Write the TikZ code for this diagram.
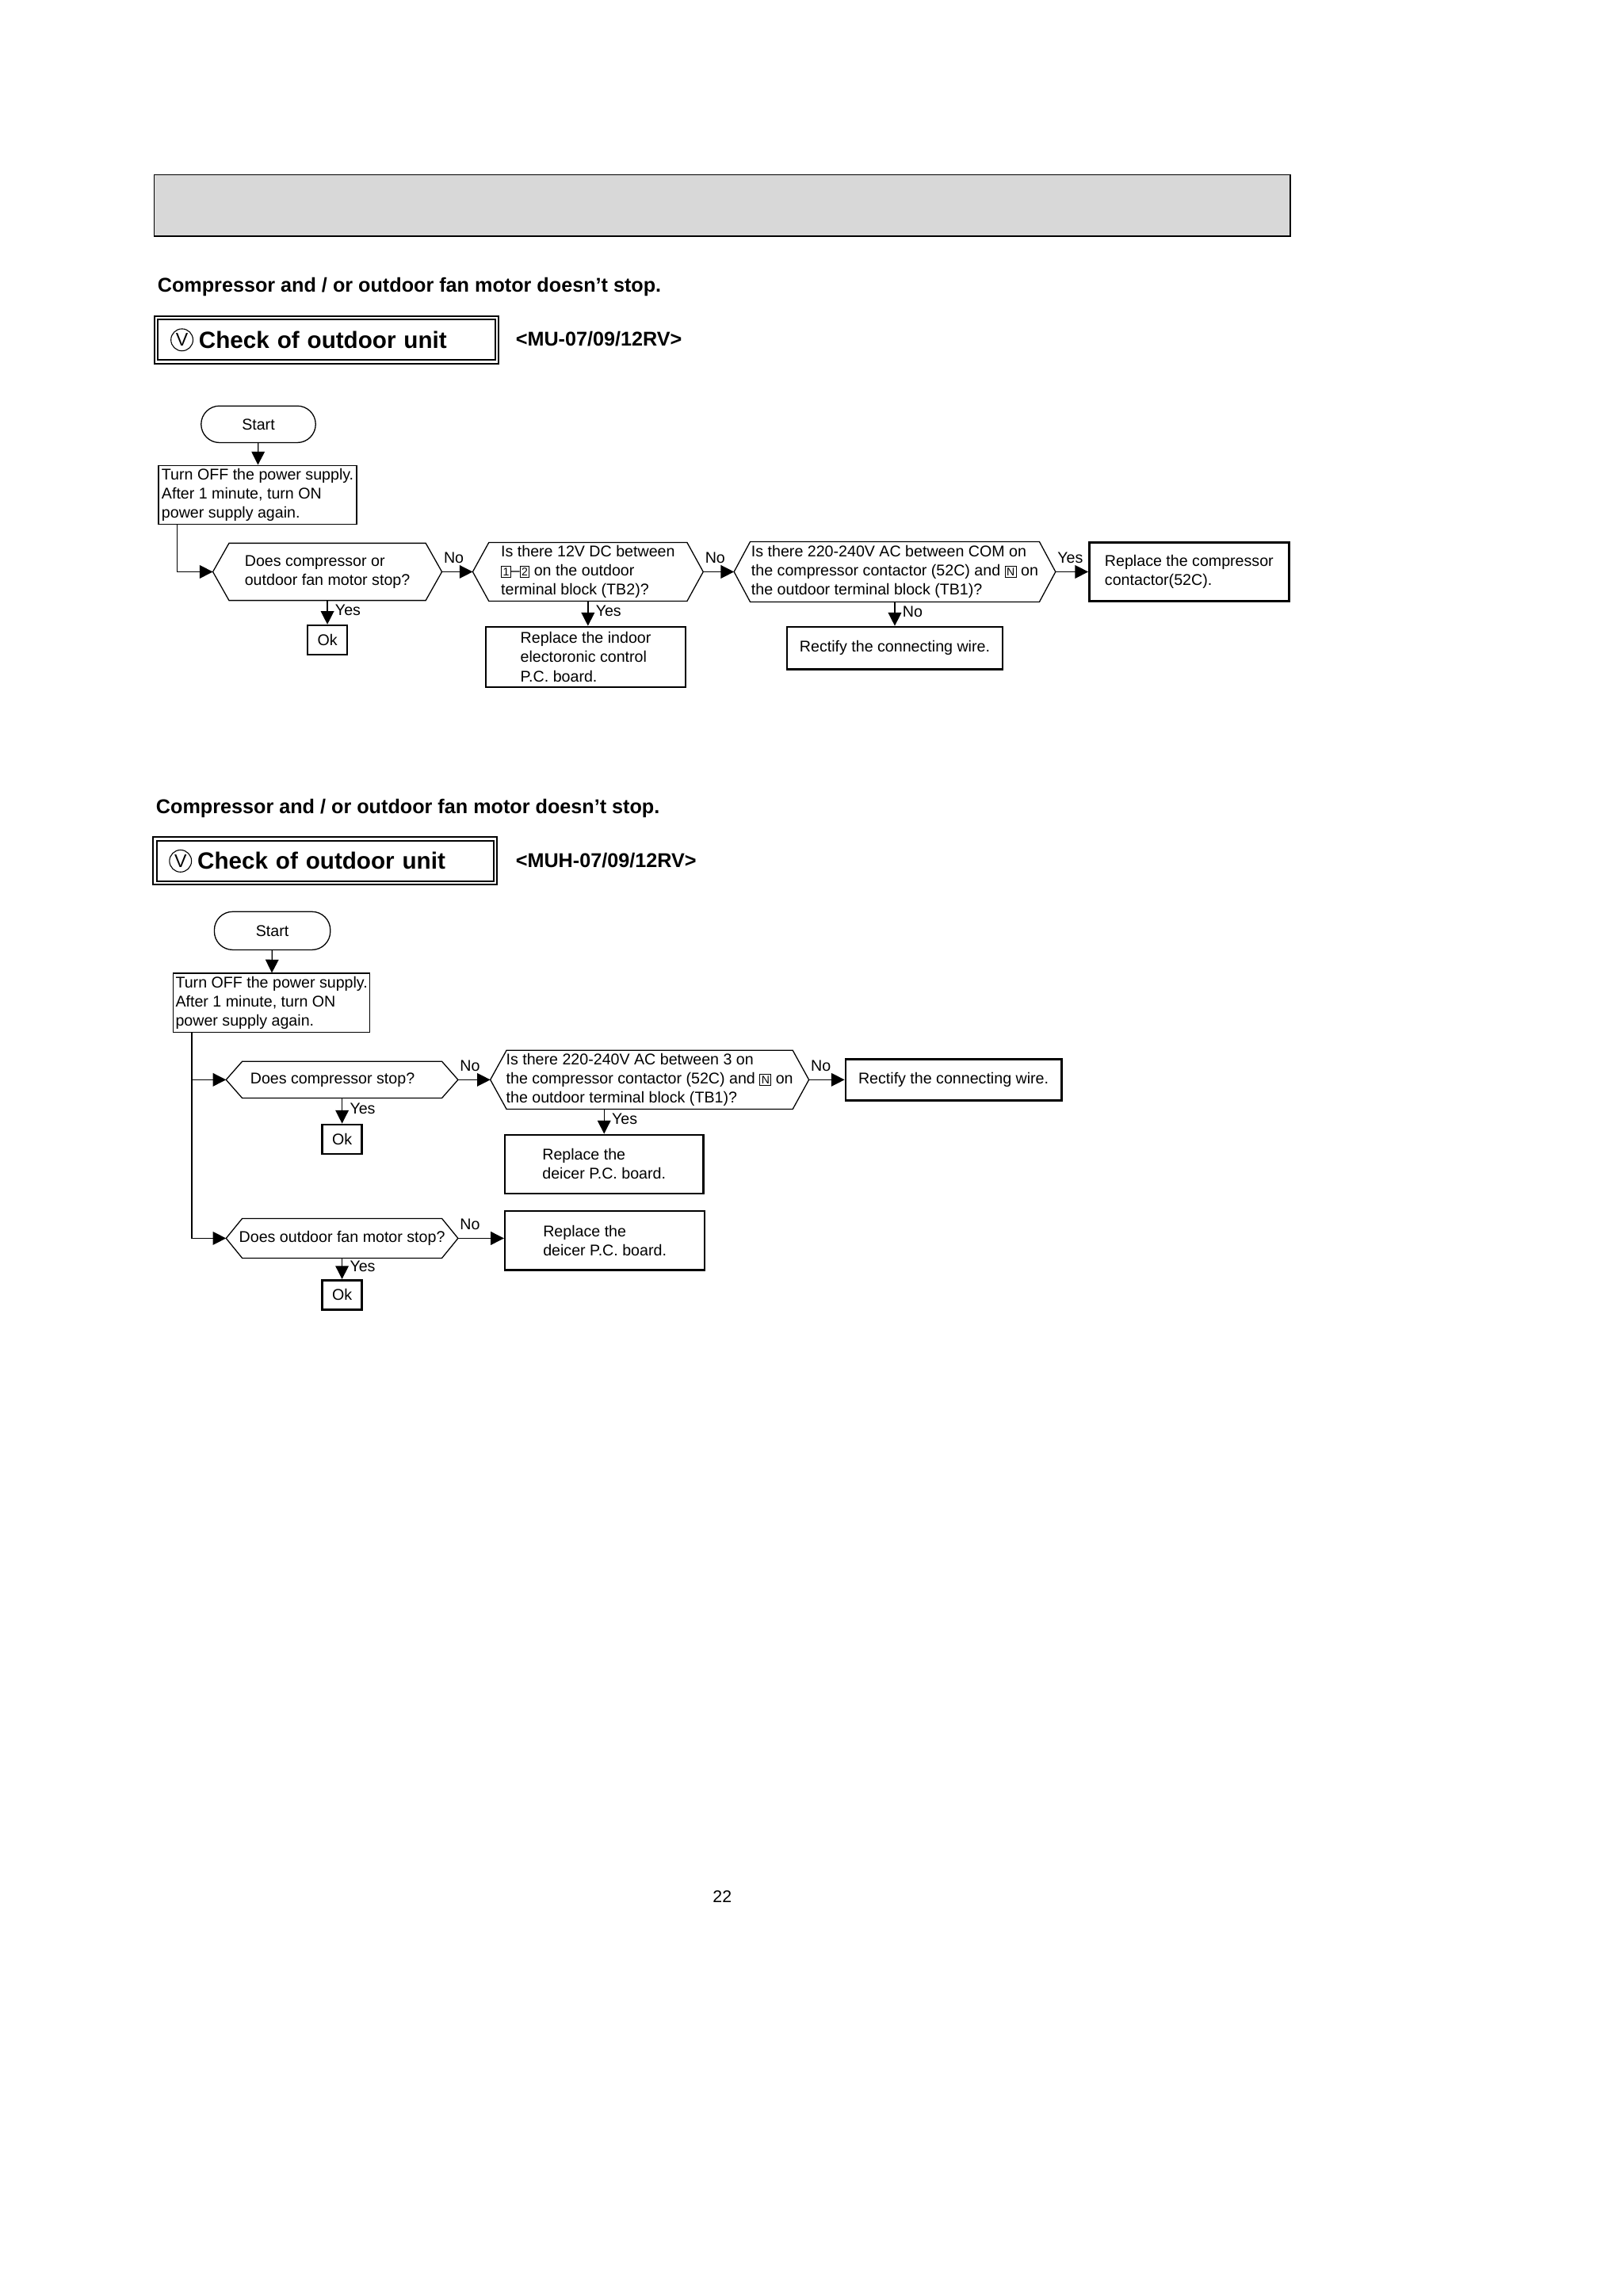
\documentclass[tikz,border=0pt]{standalone}
\usepackage{fontspec}
\setmainfont{Liberation Sans}
\usetikzlibrary{arrows.meta}
\definecolor{band}{RGB}{216,216,216}
\newcommand{\tbox}[1]{{\setlength{\fboxsep}{0.8pt}\setlength{\fboxrule}{0.5pt}\fbox{\fontsize{7.6}{8}\selectfont #1}}}

\begin{document}
\begin{tikzpicture}[x=1pt,y=-1pt,line width=.7pt,
    >={Triangle[length=9pt,width=9pt]},
    every node/.style={font=\fontsize{10.6}{13}\selectfont},
    titletext/.style={anchor=base west,inner sep=0pt,font=\bfseries\fontsize{13.6}{16}\selectfont},
    headbox/.style={draw,double,double distance=1.2pt,line width=1.1pt,minimum width=232pt,
      minimum height=30pt,text width=212pt,align=left,inner sep=0pt,
      font=\bfseries\fontsize{16}{18}\selectfont},
    circv/.style={circle,draw,line width=.6pt,inner sep=0pt,minimum size=15pt,font=\fontsize{12.5}{13}\selectfont},
    startbox/.style={draw,rounded corners=12.5pt,minimum width=78pt,minimum height=25pt,inner sep=0pt},
    procbox/.style={draw,minimum width=135pt,minimum height=40pt,align=left,inner sep=0pt},
    askbox/.style={align=left,inner sep=0pt,outer sep=0pt},
    endbox/.style={draw,line width=1.4pt,align=left,inner sep=0pt},
    okbox/.style={draw,line width=1.4pt,minimum width=27pt,minimum height=20pt,inner sep=0pt},
    hlab/.style={pos=0,anchor=south west,inner sep=1pt,yshift=4.5pt},
    vlab/.style={pos=.4,anchor=west,inner sep=1pt,xshift=4pt}]

  \fill[white] (0,0) rectangle (1103,1564);
  \useasboundingbox (0,0) rectangle (1103,1564);

  % grey band on top
  \draw[line width=1pt,fill=band] (105,119) rectangle (879,161);

  % ---- MU models ----
  \node[titletext] (t1) at (107,199) {Compressor and / or outdoor fan motor doesn't stop.};
  \node[headbox] (h1) at (222.5,231.5) {\hspace*{19pt}Check of outdoor unit};
  \node[circv] (v1) at ([xshift=18pt]h1.west) {V};
  \node[titletext,anchor=west] (m1) at (351,231) {<MU-07/09/12RV>};

  \node[startbox] (s1) at (176,289) {Start};
  \node[procbox] (p1) at (175.5,337) {Turn OFF the power supply.\\After 1 minute, turn ON\\power supply again.};
  \node[askbox,minimum width=156pt,minimum height=39pt] (d1) at (223,389.5)
    {Does compressor or\\outdoor fan motor stop?};
  \node[askbox,minimum width=157pt,minimum height=40pt] (d2) at (400.5,389.5)
    {Is there 12V DC between\\\tbox{1}--\tbox{2} on the outdoor\\terminal block (TB2)?};
  \node[askbox,minimum width=219pt,minimum height=41pt] (d3) at (609.5,389.5)
    {Is there 220-240V AC between COM on\\the compressor contactor (52C) and \tbox{N} on\\the outdoor terminal block (TB1)?};
  \node[endbox,minimum width=136pt,minimum height=40pt] (r1) at (810,389.5)
    {Replace the compressor\\contactor(52C).};
  \node[okbox] (ok1) at (223,436) {Ok};
  \node[endbox,minimum width=136pt,minimum height=41pt] (r2) at (399,447.5)
    {Replace the indoor\\electoronic control\\P.C. board.};
  \node[endbox,minimum width=147pt,minimum height=29pt,align=center] (r3) at (609.5,441.5)
    {Rectify the connecting wire.};

  \draw[->] (s1) -- (p1);
  \draw[->] ([xshift=13pt]p1.south west) |- (d1.west);
  \draw[->] (d1.east) -- node[hlab] {No} (d2.west);
  \draw[->] (d2.east) -- node[hlab] {No} (d3.west);
  \draw[->] (d3.east) -- node[hlab] {Yes} (r1.west);
  \draw[->] (d1.south) -- node[vlab] {Yes} (ok1.north);
  \draw[->] (d2.south) -- node[vlab] {Yes} (d2.south |- r2.north);
  \draw[->] (d3.south) -- node[vlab] {No} (r3.north);

  % ---- MUH models ----
  \node[titletext] (t2) at (106,554) {Compressor and / or outdoor fan motor doesn't stop.};
  \node[headbox] (h2) at (221.5,586.5) {\hspace*{19pt}Check of outdoor unit};
  \node[circv] (v2) at ([xshift=18pt]h2.west) {V};
  \node[titletext,anchor=west] (m2) at (351,586) {<MUH-07/09/12RV>};

  \node[startbox,minimum width=79pt,minimum height=26pt] (s2) at (185.5,634) {Start};
  \node[procbox,minimum width=134pt] (p2) at (185,683) {Turn OFF the power supply.\\After 1 minute, turn ON\\power supply again.};
  \node[askbox,minimum width=158pt,minimum height=25pt] (dA) at (233,735.5)
    {Does compressor stop?\hspace*{13pt}};
  \node[askbox,minimum width=217pt,minimum height=40pt] (dB) at (442.5,735.5)
    {Is there 220-240V AC between 3 on\\the compressor contactor (52C) and \tbox{N} on\\the outdoor terminal block (TB1)?};
  \node[endbox,minimum width=147pt,minimum height=28pt,align=center] (rB) at (649.5,735.5)
    {Rectify the connecting wire.};
  \node[okbox] (okA) at (233,776) {Ok};
  \node[endbox,minimum width=135pt,minimum height=40pt] (rA) at (411.5,793)
    {Replace the\\deicer P.C. board.};
  \node[askbox,minimum width=158pt,minimum height=27pt] (dC) at (233,843.5)
    {Does outdoor fan motor stop?};
  \node[endbox,minimum width=136pt,minimum height=40pt] (rC) at (412,845)
    {Replace the\\deicer P.C. board.};
  \node[okbox] (okC) at (233,882) {Ok};

  % hexagon outlines of the questions
  \foreach \q in {d1,d2,d3,dA,dB,dC}
    \draw (\q.west) -- ([xshift=11pt]\q.north west) -- ([xshift=-11pt]\q.north east)
      -- (\q.east) -- ([xshift=-11pt]\q.south east) -- ([xshift=11pt]\q.south west) -- cycle;

  \draw[->] (s2) -- (p2);
  \draw[->] ([xshift=13pt]p2.south west) |- (dA.west);
  \draw[->] ([xshift=13pt]p2.south west) |- (dC.west);
  \draw[->] (dA.east) -- node[hlab] {No} (dB.west);
  \draw[->] (dB.east) -- node[hlab] {No} (rB.west);
  \draw[->] (dA.south) -- node[vlab] {Yes} (okA.north);
  \draw[->] (dB.south -| rA.north) -- node[vlab] {Yes} (rA.north);
  \draw[->] (dC.east) -- node[hlab] {No} (dC.east -| rC.west);
  \draw[->] (dC.south) -- node[vlab] {Yes} (okC.north);

  \node[font=\fontsize{11.5}{13}\selectfont] (pg) at (492,1292) {22};
\end{tikzpicture}
\end{document}
